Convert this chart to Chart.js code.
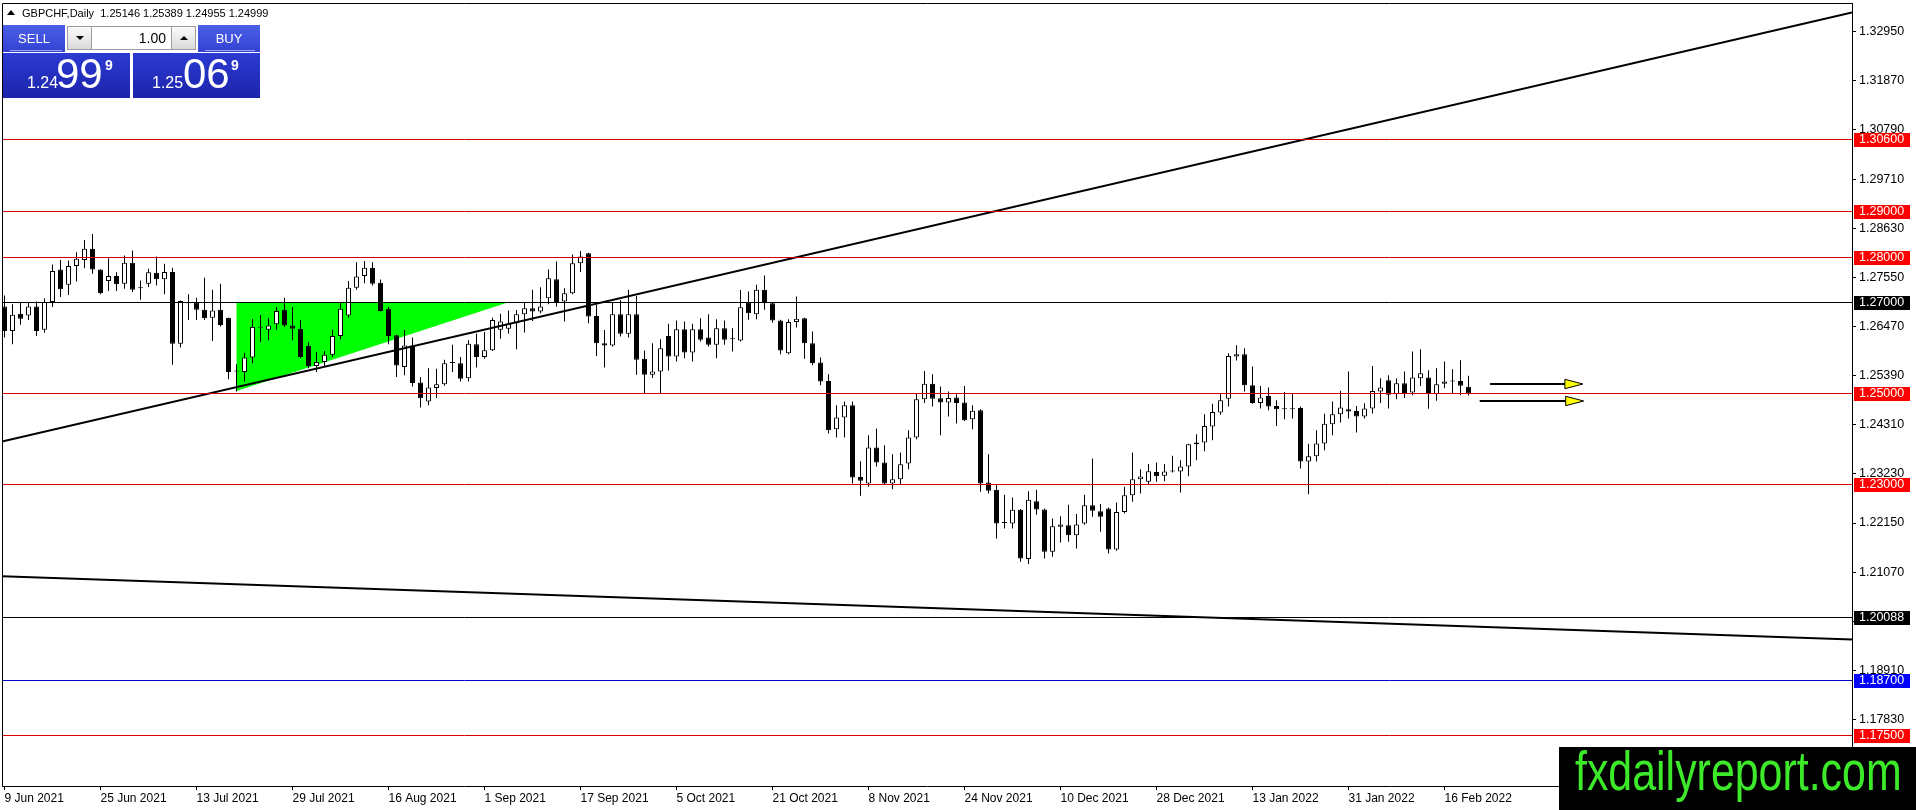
<!DOCTYPE html>
<html>
<head>
<meta charset="utf-8">
<script src="https://cdn.jsdelivr.net/npm/chart.js@4.4.1/dist/chart.umd.min.js"></script>
<style>
html,body{margin:0;padding:0;background:#fff;overflow:hidden;}
#wrap{position:relative;width:1916px;height:810px;font-family:"Liberation Sans",Arial,sans-serif;}
#c{position:absolute;left:0;top:0;}
.abs{position:absolute;box-sizing:border-box;}
#hdrTri{left:7px;top:10px;width:0;height:0;border-left:4px solid transparent;border-right:4px solid transparent;border-bottom:5px solid #000;}
#hdr{left:22px;top:6px;font-size:11px;line-height:14px;white-space:pre;color:#000;}
.btn{height:27px;top:25px;width:62px;background:linear-gradient(#4d60e8,#3142d2);color:#fff;font-size:13px;line-height:27px;text-align:center;}
.uline{height:1px;top:50px;background:#9aa8ff;}
.spin{top:26px;width:25px;height:24px;background:linear-gradient(#fbfbfb,#d9d9d9);border:1px solid #9c9c9c;}
.dnTri{left:8px;top:9px;width:0;height:0;border-left:4px solid transparent;border-right:4px solid transparent;border-top:4px solid #000;}
.upTri{left:8px;top:9px;width:0;height:0;border-left:4px solid transparent;border-right:4px solid transparent;border-bottom:4px solid #000;}
#inp{left:92px;top:26px;width:79px;height:24px;background:#fff;border:1px solid #9c9c9c;border-left:none;border-right:none;font-size:14px;line-height:23px;text-align:right;padding-right:5px;color:#000;}
.quote{top:53px;width:127px;height:45px;background:linear-gradient(#2c3ad2,#1b24aa);color:#fff;}
.qs{font-size:16px;line-height:16px;top:22px;}
.qb{font-size:42px;line-height:42px;top:0px;}
.qp{font-size:14px;line-height:14px;font-weight:bold;top:5px;}
#wm{left:1559px;top:747px;width:357px;height:63px;background:#000;overflow:hidden;}
#wmText{left:16px;top:-8px;font-size:55px;white-space:nowrap;color:#3dea2a;transform:scaleX(0.78);transform-origin:0 0;}
</style>
</head>
<body>
<div id="wrap">
<canvas id="c" width="1916" height="810"></canvas>
<div class="abs" id="hdrTri"></div>
<div class="abs" id="hdr">GBPCHF,Daily  1.25146 1.25389 1.24955 1.24999</div>
<div class="abs btn" style="left:3px;">SELL</div>
<div class="abs uline" style="left:10px;width:52px;"></div>
<div class="abs spin" style="left:67px;"><div class="abs dnTri"></div></div>
<div class="abs" id="inp">1.00</div>
<div class="abs spin" style="left:171px;"><div class="abs upTri"></div></div>
<div class="abs btn" style="left:198px;">BUY</div>
<div class="abs uline" style="left:205px;width:50px;"></div>
<div class="abs quote" style="left:3px;">
  <div class="abs qs" style="left:24px;">1.24</div>
  <div class="abs qb" style="left:53px;">99</div>
  <div class="abs qp" style="left:102px;">9</div>
</div>
<div class="abs quote" style="left:133px;">
  <div class="abs qs" style="left:19px;">1.25</div>
  <div class="abs qb" style="left:50px;">06</div>
  <div class="abs qp" style="left:98px;">9</div>
</div>
<div class="abs" id="wm"><div class="abs" id="wmText">fxdailyreport.com</div></div>
</div>
<script>
// ---------- DATA ----------
const opens = [
1.2691,1.2637,1.2675,1.2671,1.2691,1.2640,1.2701,1.2772,1.2739,1.2780,
1.2793,1.2818,1.2772,1.2747,1.2758,1.2741,1.2787,1.2731,1.2741,1.2765,
1.2751,1.2767,1.2609,1.2699,1.2699,1.2684,1.2666,1.2684,1.2666,1.2548,
1.2547,1.2579,1.2646,1.2640,1.2652,1.2684,1.2649,1.2642,1.2604,1.2560,
1.2569,1.2585,1.2626,1.2671,1.2732,1.2758,1.2776,1.2743,1.2686,1.2628,
1.2558,1.2605,1.2524,1.2482,1.2512,1.2520,1.2567,1.2566,1.2533,1.2608,
1.2580,1.2595,1.2640,1.2642,1.2654,1.2674,1.2687,1.2680,1.2709,1.2751,
1.2702,1.2720,1.2786,1.2808,1.2670,1.2610,1.2605,1.2674,1.2631,1.2674,
1.2576,1.2541,1.2548,1.2626,1.2581,1.2641,1.2590,1.2641,1.2623,1.2607,
1.2643,1.2619,1.2616,1.2699,1.2674,1.2728,1.2698,1.2660,1.2588,1.2657,
1.2665,1.2610,1.2568,1.2527,1.2421,1.2447,1.2474,1.2316,1.2302,1.2381,
1.2348,1.2302,1.2311,1.2346,1.2403,1.2487,1.2521,1.2489,1.2480,1.2491,
1.2480,1.2443,1.2463,1.2304,1.2288,1.2215,1.2214,1.2244,1.2136,1.2263,
1.2245,1.2152,1.2207,1.2210,1.2188,1.2214,1.2254,1.2241,1.2247,1.2157,
1.2239,1.2276,1.2311,1.2306,1.2327,1.2319,1.2328,1.2328,1.2339,1.2388,
1.2392,1.2427,1.2458,1.2488,1.2581,1.2586,1.2518,1.2479,1.2494,1.2472,
1.2465,1.2467,1.2468,1.2350,1.2362,1.2390,1.2432,1.2454,1.2465,1.2461,
1.2449,1.2467,1.2504,1.2529,1.2498,1.2522,1.2502,1.2533,1.2535,1.2498,
1.2521,1.2526,1.2527,1.25146];
const highs = [
1.2715,1.2696,1.2699,1.2701,1.2702,1.2709,1.2783,1.2793,1.2792,1.2810,
1.2837,1.2850,1.2773,1.2797,1.2766,1.2803,1.2814,1.2748,1.2774,1.2801,
1.2785,1.2776,1.2704,1.2718,1.2710,1.2754,1.2728,1.2741,1.2666,1.2564,
1.2589,1.2664,1.2672,1.2666,1.2690,1.2710,1.2690,1.2661,1.2613,1.2591,
1.2593,1.2640,1.2699,1.2747,1.2788,1.2791,1.2788,1.2750,1.2690,1.2629,
1.2639,1.2623,1.2536,1.2555,1.2554,1.2574,1.2607,1.2580,1.2617,1.2631,
1.2635,1.2666,1.2675,1.2682,1.2683,1.2699,1.2728,1.2733,1.2772,1.2790,
1.2731,1.2805,1.2813,1.2809,1.2694,1.2639,1.2701,1.2705,1.2728,1.2714,
1.2594,1.2610,1.2619,1.2653,1.2660,1.2658,1.2653,1.2665,1.2674,1.2663,
1.2660,1.2643,1.2727,1.2724,1.2739,1.2759,1.2700,1.2662,1.2663,1.2713,
1.2666,1.2636,1.2579,1.2542,1.2474,1.2482,1.2482,1.2351,1.2408,1.2423,
1.2386,1.2366,1.2370,1.2419,1.2500,1.2549,1.2542,1.2515,1.2504,1.2498,
1.2516,1.2474,1.2465,1.2366,1.2300,1.2277,1.2271,1.2246,1.2285,1.2288,
1.2247,1.2225,1.2230,1.2255,1.2235,1.2277,1.2357,1.2257,1.2249,1.2260,
1.2295,1.2370,1.2333,1.2345,1.2348,1.2345,1.2363,1.2353,1.2389,1.2410,
1.2454,1.2477,1.2500,1.2588,1.2606,1.2599,1.2559,1.2516,1.2513,1.2485,
1.2503,1.2499,1.2471,1.2389,1.2419,1.2455,1.2482,1.2506,1.2548,1.2472,
1.2478,1.2560,1.2533,1.2540,1.2533,1.2548,1.2592,1.2597,1.2551,1.2555,
1.2570,1.2553,1.2573,1.25389];
const lows = [
1.2623,1.2608,1.2651,1.2661,1.2626,1.2633,1.2690,1.2712,1.2716,1.2746,
1.2775,1.2763,1.2718,1.2725,1.2725,1.2730,1.2723,1.2706,1.2734,1.2737,
1.2718,1.2563,1.2601,1.2661,1.2661,1.2661,1.2615,1.2647,1.2531,1.2504,
1.2526,1.2566,1.2613,1.2617,1.2639,1.2646,1.2617,1.2577,1.2555,1.2547,
1.2560,1.2580,1.2619,1.2666,1.2728,1.2742,1.2737,1.2680,1.2608,1.2536,
1.2540,1.2515,1.2469,1.2474,1.2489,1.2517,1.2547,1.2526,1.2526,1.2557,
1.2576,1.2593,1.2620,1.2631,1.2597,1.2634,1.2659,1.2676,1.2696,1.2691,
1.2658,1.2718,1.2767,1.2654,1.2582,1.2557,1.2603,1.2625,1.2623,1.2541,
1.2501,1.2534,1.2501,1.2550,1.2570,1.2577,1.2570,1.2614,1.2603,1.2577,
1.2607,1.2592,1.2614,1.2662,1.2663,1.2684,1.2655,1.2586,1.2586,1.2645,
1.2576,1.2562,1.2518,1.2412,1.2403,1.2403,1.2302,1.2275,1.2295,1.2339,
1.2300,1.2289,1.2301,1.2333,1.2399,1.2479,1.2471,1.2408,1.2449,1.2434,
1.2439,1.2421,1.2284,1.2280,1.2181,1.2203,1.2203,1.2130,1.2125,1.2233,
1.2137,1.2141,1.2172,1.2174,1.2159,1.2211,1.2229,1.2196,1.2148,1.2154,
1.2236,1.2262,1.2280,1.2299,1.2306,1.2307,1.2326,1.2282,1.2318,1.2353,
1.2373,1.2397,1.2453,1.2471,1.2572,1.2504,1.2477,1.2467,1.2463,1.2428,
1.2443,1.2445,1.2335,1.2278,1.2350,1.2375,1.2408,1.2436,1.2445,1.2414,
1.2445,1.2456,1.2479,1.2467,1.2487,1.2490,1.2496,1.2516,1.2466,1.2484,
1.2511,1.2500,1.2496,1.24955];
const closes = [
1.2637,1.2673,1.2664,1.2691,1.2637,1.2701,1.2769,1.2729,1.2780,1.2796,
1.2818,1.2772,1.2720,1.2758,1.2740,1.2787,1.2728,1.2731,1.2766,1.2751,
1.2767,1.2609,1.2703,1.2698,1.2684,1.2665,1.2682,1.2650,1.2547,1.2549,
1.2579,1.2646,1.2644,1.2649,1.2681,1.2649,1.2642,1.2580,1.2560,1.2569,
1.2585,1.2626,1.2686,1.2732,1.2757,1.2776,1.2741,1.2681,1.2626,1.2561,
1.2605,1.2523,1.2489,1.2513,1.2520,1.2566,1.2567,1.2532,1.2609,1.2580,
1.2595,1.2661,1.2658,1.2653,1.2674,1.2687,1.2680,1.2691,1.2753,1.2701,
1.2720,1.2786,1.2801,1.2669,1.2610,1.2605,1.2674,1.2631,1.2674,1.2574,
1.2541,1.2548,1.2599,1.2581,1.2641,1.2590,1.2641,1.2618,1.2607,1.2643,
1.2618,1.2620,1.2689,1.2676,1.2728,1.2698,1.2660,1.2594,1.2657,1.2664,
1.2610,1.2567,1.2526,1.2419,1.2447,1.2474,1.2315,1.2308,1.2381,1.2348,
1.2302,1.2311,1.2344,1.2403,1.2487,1.2521,1.2488,1.2480,1.2490,1.2479,
1.2441,1.2462,1.2302,1.2286,1.2214,1.2216,1.2244,1.2137,1.2266,1.2245,
1.2152,1.2208,1.2212,1.2188,1.2212,1.2254,1.2242,1.2229,1.2157,1.2239,
1.2276,1.2311,1.2317,1.2329,1.2318,1.2328,1.2329,1.2339,1.2388,1.2392,
1.2428,1.2459,1.2485,1.2582,1.2586,1.2518,1.2479,1.2491,1.2471,1.2465,
1.2465,1.2465,1.2350,1.2362,1.2390,1.2433,1.2454,1.2469,1.2460,1.2449,
1.2467,1.2505,1.2513,1.2497,1.2522,1.2501,1.2535,1.2544,1.2498,1.2520,
1.2526,1.2527,1.2517,1.24999];

// x-axis: bar index of each date label, and the label text
const dateTickIndex = [0,12,24,36,48,60,72,84,96,108,120,132,144,156,168,180];
const dateTickLabels = ['9 Jun 2021','25 Jun 2021','13 Jul 2021','29 Jul 2021','16 Aug 2021','1 Sep 2021',
  '17 Sep 2021','5 Oct 2021','21 Oct 2021','8 Nov 2021','24 Nov 2021','10 Dec 2021','28 Dec 2021',
  '13 Jan 2022','31 Jan 2022','16 Feb 2022'];
// y-axis tick labels
const priceTicks = [1.32950,1.31870,1.30790,1.29710,1.28630,1.27550,1.26470,1.25390,1.24310,
  1.23230,1.22150,1.21070,1.19990,1.18910,1.17830,1.16750];
// horizontal levels
const levelPrices = [1.30600,1.29000,1.28000,1.27000,1.25000,1.23000,1.20088,1.18700,1.17500];
// trend lines (bar index, price)
const trendUpX = [-0.3125, 230.9375];
const trendUpY = [1.2394, 1.3337];
const trendDownX = [-0.3125, 230.9375];
const trendDownY = [1.2098, 1.1959];
// triangle (bar index, price)
const triX = [29, 29, 63];
const triY = [1.2700, 1.2505, 1.2700];
// arrows (bar index from/to, price)
const arrowFrom = [185.7, 184.4];
const arrowTo = [197.3, 197.4];
const arrowPrice = [1.2520, 1.2484];

// ---------- STYLES ----------
const levelLine = ['#d40000','#d40000','#d40000','#000000','#d40000','#d40000','#000000','#0000c8','#d40000'];
const levelBox  = ['#ff0000','#ff0000','#ff0000','#000000','#ff0000','#ff0000','#000000','#0000ff','#ff0000'];
const FONT = '"Liberation Sans", Arial, sans-serif';
Chart.defaults.font.family = FONT;
Chart.defaults.color = '#000';

const bodies = opens.map((o,i)=>({x:i, y:[o, closes[i]]}));
const wicks = lows.map((l,i)=>({x:i, y:[l, highs[i]]}));
const bodyFill = opens.map((o,i)=> closes[i] > o ? '#ffffff' : '#000000');

const overlay = {
  id:'overlay',
  beforeDatasetsDraw(chart){
    const {ctx, chartArea:a, scales:{x,y}} = chart;
    ctx.save();
    ctx.beginPath(); ctx.rect(a.left,a.top,a.right-a.left,a.bottom-a.top); ctx.clip();
    ctx.fillStyle = '#00ff00';
    ctx.beginPath();
    triX.forEach((v,k)=>{
      const px = x.getPixelForValue(v), py = y.getPixelForValue(triY[k]);
      if(k===0) ctx.moveTo(px,py); else ctx.lineTo(px,py);
    });
    ctx.closePath(); ctx.fill();
    ctx.restore();
  },
  afterDatasetsDraw(chart){
    const {ctx, chartArea:a, scales:{x,y}} = chart;
    ctx.save();
    ctx.beginPath(); ctx.rect(a.left,a.top,a.right-a.left,a.bottom-a.top); ctx.clip();
    levelPrices.forEach((p,k)=>{
      const py = Math.round(y.getPixelForValue(p)) + 0.5;
      ctx.strokeStyle = levelLine[k]; ctx.lineWidth = 1;
      ctx.beginPath(); ctx.moveTo(a.left,py); ctx.lineTo(a.right,py); ctx.stroke();
    });
    arrowFrom.forEach((f,k)=>{
      const x0 = x.getPixelForValue(f), x1 = x.getPixelForValue(arrowTo[k]);
      const py = Math.round(y.getPixelForValue(arrowPrice[k]));
      const head = 18, hh = 4.7;
      ctx.strokeStyle = '#000'; ctx.lineWidth = 2;
      ctx.beginPath(); ctx.moveTo(x0,py); ctx.lineTo(x1-head,py); ctx.stroke();
      ctx.beginPath(); ctx.moveTo(x1-head,py-hh); ctx.lineTo(x1,py); ctx.lineTo(x1-head,py+hh); ctx.closePath();
      ctx.fillStyle = '#ffff00'; ctx.fill(); ctx.lineWidth = 1; ctx.stroke();
    });
    ctx.restore();
  },
  afterDraw(chart){
    const {ctx, chartArea:a, scales:{y}} = chart;
    ctx.save();
    ctx.strokeStyle = '#000'; ctx.lineWidth = 1;
    ctx.beginPath();
    ctx.moveTo(a.left+0.5, a.bottom); ctx.lineTo(a.left+0.5, a.top+0.5); ctx.lineTo(a.right, a.top+0.5);
    ctx.stroke();
    ctx.font = '12.5px ' + FONT; ctx.textBaseline = 'middle'; ctx.textAlign = 'left';
    levelPrices.forEach((p,k)=>{
      const py = Math.round(y.getPixelForValue(p));
      ctx.fillStyle = levelBox[k];
      ctx.fillRect(a.right+2, py-6, 56, 14);
      ctx.fillStyle = '#fff';
      ctx.fillText(p.toFixed(5), a.right+7, py+1);
    });
    ctx.restore();
  }
};

new Chart(document.getElementById('c'), {
  type:'bar',
  data:{
    datasets:[
      {type:'line', label:'Trend up', data: trendUpX.map((v,k)=>({x:v,y:trendUpY[k]})), borderColor:'#000', borderWidth:2, pointRadius:0, tension:0, fill:false, order:-2},
      {type:'line', label:'Trend down', data: trendDownX.map((v,k)=>({x:v,y:trendDownY[k]})), borderColor:'#000', borderWidth:2, pointRadius:0, tension:0, fill:false, order:-2},
      {type:'bar', label:'Body', data: bodies, backgroundColor: bodyFill, borderColor:'#000', borderWidth:1, borderSkipped:false, barThickness:5, grouped:false, minBarLength:1, inflateAmount:0, order:0},
      {type:'bar', label:'Wick', data: wicks, backgroundColor:'#000', borderWidth:0, barThickness:1, grouped:false, inflateAmount:0, order:1}
    ]
  },
  options:{
    responsive:false, animation:false, devicePixelRatio:1,
    layout:{padding:{left:2, top:3, right:0, bottom:0}},
    plugins:{legend:{display:false}, tooltip:{enabled:false}},
    events:[],
    scales:{
      x:{
        type:'linear', min:-0.3125, max:230.9375, offset:false,
        grid:{drawOnChartArea:false, drawTicks:true, tickLength:4, color:'#000', offset:false},
        border:{display:true, color:'#000', width:1},
        ticks:{align:'start', maxRotation:0, minRotation:0, autoSkip:false, padding:1, color:'#000',
          font:{family:FONT, size:12},
          callback:(v)=>{ const k = dateTickIndex.indexOf(v); return k>=0 ? dateTickLabels[k] : ''; }},
        afterBuildTicks:(s)=>{ s.ticks = dateTickIndex.map(v=>({value:v})); },
        afterFit:(s)=>{ s.height = 24; s.paddingLeft = 0; s.paddingRight = 0; }
      },
      y:{
        type:'linear', position:'right', min:1.1637, max:1.3358,
        grid:{drawOnChartArea:false, drawTicks:true, tickLength:4, color:'#000'},
        border:{display:true, color:'#000', width:1},
        ticks:{autoSkip:false, padding:3, color:'#000', font:{family:FONT, size:12.5},
          callback:(v)=> Number(v).toFixed(5)},
        afterBuildTicks:(s)=>{ s.ticks = priceTicks.map(v=>({value:v})); },
        afterFit:(s)=>{ s.width = 64; s.paddingTop = 0; s.paddingBottom = 0; }
      }
    }
  },
  plugins:[overlay]
});
</script>
</body>
</html>
